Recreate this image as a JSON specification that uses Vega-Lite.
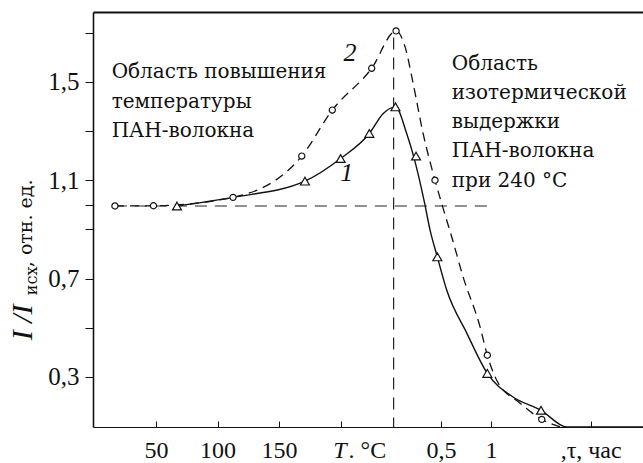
{
  "$schema": "https://vega.github.io/schema/vega-lite/v6.json",
  "width": 550,
  "height": 415,
  "autosize": {"type": "none"},
  "padding": {"left": 93, "top": 12, "right": 0, "bottom": 36},
  "background": "white",
  "config": {
    "view": {"stroke": null},
    "font": "Liberation Serif, DejaVu Serif",
    "text": {"font": "DejaVu Serif"},
    "axis": {"grid": false, "domainColor": "#111", "tickColor": "#111", "labelColor": "#111", "labelFont": "Liberation Serif, DejaVu Serif", "labelFontSize": 24}
  },
  "datasets": {
    "one": [{}],
    "c1line": [
      {"x": 67.1, "y": 0.995}, {"x": 112.6, "y": 1.030}, {"x": 171.0, "y": 1.096}, {"x": 200.0, "y": 1.188},
      {"x": 223.3, "y": 1.290}, {"x": 234.6, "y": 1.371}, {"x": 244.5, "y": 1.398}, {"x": 253.6, "y": 1.290},
      {"x": 259.2, "y": 1.198}, {"x": 267.7, "y": 1.018}, {"x": 272.6, "y": 0.897}, {"x": 278.5, "y": 0.788},
      {"x": 286.1, "y": 0.653}, {"x": 302.4, "y": 0.478}, {"x": 319.1, "y": 0.314}, {"x": 340.0, "y": 0.218},
      {"x": 362.7, "y": 0.164}, {"x": 383.6, "y": 0.096}, {"x": 445.5, "y": 0.096}
    ],
    "c2line": [
      {"x": 16.7, "y": 0.995}, {"x": 48.0, "y": 0.996}, {"x": 112.6, "y": 1.030}, {"x": 168.4, "y": 1.198},
      {"x": 193.2, "y": 1.385}, {"x": 225.2, "y": 1.555}, {"x": 245.0, "y": 1.707}, {"x": 252.3, "y": 1.642},
      {"x": 258.8, "y": 1.495}, {"x": 266.9, "y": 1.291}, {"x": 276.6, "y": 1.100}, {"x": 286.1, "y": 0.937},
      {"x": 290.2, "y": 0.869}, {"x": 299.4, "y": 0.707}, {"x": 313.2, "y": 0.503}, {"x": 319.1, "y": 0.388},
      {"x": 326.7, "y": 0.286}, {"x": 345.7, "y": 0.193}, {"x": 363.3, "y": 0.127}, {"x": 378.2, "y": 0.096}
    ],
    "c1pts": [
      {"x": 67.1, "y": 0.995}, {"x": 171.0, "y": 1.096}, {"x": 200.0, "y": 1.188}, {"x": 223.3, "y": 1.290},
      {"x": 244.5, "y": 1.398}, {"x": 261.2, "y": 1.198}, {"x": 278.5, "y": 0.788}, {"x": 319.1, "y": 0.314},
      {"x": 362.7, "y": 0.164}
    ],
    "c2pts": [
      {"x": 16.7, "y": 0.995}, {"x": 48.0, "y": 0.996}, {"x": 112.6, "y": 1.030}, {"x": 168.4, "y": 1.198},
      {"x": 193.2, "y": 1.385}, {"x": 225.2, "y": 1.555}, {"x": 245.0, "y": 1.707}, {"x": 276.6, "y": 1.100},
      {"x": 319.1, "y": 0.388}, {"x": 363.3, "y": 0.127}
    ]
  },
  "layer": [
    {
      "data": {"name": "c1line"},
      "mark": {"type": "line", "interpolate": "monotone", "stroke": "#111", "strokeWidth": 1.4},
      "encoding": {
        "x": {"field": "x", "type": "quantitative", "scale": {"domain": [-1.1, 445.5], "nice": false, "zero": false},
          "axis": {"orient": "bottom", "title": null, "values": [50, 100, 150, 200, 281.5, 322, 403],
            "labelExpr": "datum.value == 50 ? '50' : datum.value == 100 ? '100' : datum.value == 150 ? '150' : datum.value == 281.5 ? '0,5' : datum.value == 322 ? '1' : datum.value == 403 ? ',τ, час' : ''",
            "tickSize": -6, "labelPadding": 17, "domainWidth": 1.2, "labelFlush": false, "labelOverlap": false, "labelFontSize": 24}},
        "y": {"field": "y", "type": "quantitative", "scale": {"domain": [0.096, 1.784], "nice": false, "zero": false},
          "axis": {"orient": "left", "title": null, "values": [0.3, 0.5, 0.7, 0.9, 1.0, 1.1, 1.3, 1.5, 1.7],
            "labelExpr": "abs(datum.value - 0.3) < 0.01 ? '0,3' : abs(datum.value - 0.7) < 0.01 ? '0,7' : abs(datum.value - 1.1) < 0.01 ? '1,1' : abs(datum.value - 1.5) < 0.01 ? '1,5' : ''",
            "tickSize": 8, "labelPadding": 6, "domainWidth": 1.6, "labelFlush": false, "labelOverlap": false, "labelFontSize": 25}}
      }
    },
    {
      "data": {"name": "c2line"},
      "mark": {"type": "line", "interpolate": "monotone", "stroke": "#111", "strokeWidth": 1.3, "strokeDash": [9, 6]},
      "encoding": {
        "x": {"field": "x", "type": "quantitative", "scale": {"domain": [-1.1, 445.5], "nice": false, "zero": false},
          "axis": {"orient": "top", "title": null, "labels": false, "ticks": false, "domain": true, "domainWidth": 2}},
        "y": {"field": "y", "type": "quantitative", "scale": {"domain": [0.096, 1.784], "nice": false, "zero": false}, "axis": null}
      }
    },
    {
      "data": {"name": "one"},
      "mark": {"type": "rule", "stroke": "#222", "strokeWidth": 1.2, "strokeDash": [12, 8]},
      "encoding": {
        "x": {"datum": 16.7, "type": "quantitative", "scale": {"domain": [-1.1, 445.5], "nice": false, "zero": false}, "axis": null},
        "x2": {"datum": 322.7},
        "y": {"datum": 0.995, "type": "quantitative", "scale": {"domain": [0.096, 1.784], "nice": false, "zero": false}, "axis": null}
      }
    },
    {
      "data": {"name": "one"},
      "mark": {"type": "rule", "stroke": "#222", "strokeWidth": 1.2, "strokeDash": [12, 8]},
      "encoding": {
        "x": {"datum": 243.0, "type": "quantitative", "scale": {"domain": [-1.1, 445.5], "nice": false, "zero": false}, "axis": null},
        "y": {"datum": 1.68, "type": "quantitative", "scale": {"domain": [0.096, 1.784], "nice": false, "zero": false}, "axis": null},
        "y2": {"datum": 0.096}
      }
    },
    {
      "data": {"name": "c1pts"},
      "mark": {"type": "point", "shape": "triangle-up", "filled": true, "fill": "white", "stroke": "#111", "strokeWidth": 1.2, "size": 80, "opacity": 1},
      "encoding": {
        "x": {"field": "x", "type": "quantitative", "scale": {"domain": [-1.1, 445.5], "nice": false, "zero": false}, "axis": null},
        "y": {"field": "y", "type": "quantitative", "scale": {"domain": [0.096, 1.784], "nice": false, "zero": false}, "axis": null}
      }
    },
    {
      "data": {"name": "c2pts"},
      "mark": {"type": "point", "shape": "circle", "filled": true, "fill": "white", "stroke": "#111", "strokeWidth": 1.2, "size": 38, "opacity": 1},
      "encoding": {
        "x": {"field": "x", "type": "quantitative", "scale": {"domain": [-1.1, 445.5], "nice": false, "zero": false}, "axis": null},
        "y": {"field": "y", "type": "quantitative", "scale": {"domain": [0.096, 1.784], "nice": false, "zero": false}, "axis": null}
      }
    },
    {
      "data": {"name": "one"},
      "mark": {"type": "text", "text": ["Область повышения", "температуры", "ПАН-волокна"], "align": "left", "baseline": "alphabetic", "lineHeight": 29.5, "fontSize": 20, "font": "DejaVu Serif", "fill": "#111"},
      "encoding": {
        "x": {"datum": 14.05, "type": "quantitative", "scale": {"domain": [-1.1, 445.5], "nice": false, "zero": false}, "axis": null},
        "y": {"datum": 1.514, "type": "quantitative", "scale": {"domain": [0.096, 1.784], "nice": false, "zero": false}, "axis": null}
      }
    },
    {
      "data": {"name": "one"},
      "mark": {"type": "text", "text": ["Область", "изотермической", "выдержки", "ПАН-волокна", "при 240 °C"], "align": "left", "baseline": "alphabetic", "lineHeight": 29.3, "fontSize": 20, "font": "DejaVu Serif", "fill": "#111"},
      "encoding": {
        "x": {"datum": 290.2, "type": "quantitative", "scale": {"domain": [-1.1, 445.5], "nice": false, "zero": false}, "axis": null},
        "y": {"datum": 1.55, "type": "quantitative", "scale": {"domain": [0.096, 1.784], "nice": false, "zero": false}, "axis": null}
      }
    },
    {
      "data": {"name": "one"},
      "mark": {"type": "text", "text": "2", "align": "center", "baseline": "middle", "fontSize": 26, "fontStyle": "italic", "font": "Liberation Serif", "fill": "#111"},
      "encoding": {
        "x": {"datum": 207.6, "type": "quantitative", "scale": {"domain": [-1.1, 445.5], "nice": false, "zero": false}, "axis": null},
        "y": {"datum": 1.617, "type": "quantitative", "scale": {"domain": [0.096, 1.784], "nice": false, "zero": false}, "axis": null}
      }
    },
    {
      "data": {"name": "one"},
      "mark": {"type": "text", "text": "1", "align": "center", "baseline": "middle", "fontSize": 26, "fontStyle": "italic", "font": "Liberation Serif", "fill": "#111"},
      "encoding": {
        "x": {"datum": 204.9, "type": "quantitative", "scale": {"domain": [-1.1, 445.5], "nice": false, "zero": false}, "axis": null},
        "y": {"datum": 1.129, "type": "quantitative", "scale": {"domain": [0.096, 1.784], "nice": false, "zero": false}, "axis": null}
      }
    },
    {
      "data": {"name": "one"},
      "mark": {"type": "text", "text": "T", "align": "left", "baseline": "alphabetic", "fontSize": 24, "fontStyle": "italic", "font": "Liberation Serif", "fill": "#111"},
      "encoding": {
        "x": {"datum": 194.0, "type": "quantitative", "scale": {"domain": [-1.1, 445.5], "nice": false, "zero": false}, "axis": null},
        "y": {"datum": -0.03, "type": "quantitative", "scale": {"domain": [0.096, 1.784], "nice": false, "zero": false}, "axis": null}
      }
    },
    {
      "data": {"name": "one"},
      "mark": {"type": "text", "text": ". °C", "align": "left", "baseline": "alphabetic", "fontSize": 24, "font": "Liberation Serif", "fill": "#111"},
      "encoding": {
        "x": {"datum": 206.4, "type": "quantitative", "scale": {"domain": [-1.1, 445.5], "nice": false, "zero": false}, "axis": null},
        "y": {"datum": -0.03, "type": "quantitative", "scale": {"domain": [0.096, 1.784], "nice": false, "zero": false}, "axis": null}
      }
    },
    {
      "data": {"name": "one"},
      "mark": {"type": "text", "text": "I /I", "align": "left", "baseline": "alphabetic", "angle": 270, "fontSize": 30, "fontStyle": "italic", "font": "Liberation Serif", "fill": "#111"},
      "encoding": {
        "x": {"datum": -50.7, "type": "quantitative", "scale": {"domain": [-1.1, 445.5], "nice": false, "zero": false}, "axis": null},
        "y": {"datum": 0.449, "type": "quantitative", "scale": {"domain": [0.096, 1.784], "nice": false, "zero": false}, "axis": null}
      }
    },
    {
      "data": {"name": "one"},
      "mark": {"type": "text", "text": "исх", "align": "left", "baseline": "alphabetic", "angle": 270, "fontSize": 16, "font": "DejaVu Serif", "fill": "#111"},
      "encoding": {
        "x": {"datum": -46.9, "type": "quantitative", "scale": {"domain": [-1.1, 445.5], "nice": false, "zero": false}, "axis": null},
        "y": {"datum": 0.632, "type": "quantitative", "scale": {"domain": [0.096, 1.784], "nice": false, "zero": false}, "axis": null}
      }
    },
    {
      "data": {"name": "one"},
      "mark": {"type": "text", "text": ", отн. ед.", "align": "left", "baseline": "alphabetic", "angle": 270, "fontSize": 19, "font": "DejaVu Serif", "fill": "#111"},
      "encoding": {
        "x": {"datum": -50.7, "type": "quantitative", "scale": {"domain": [-1.1, 445.5], "nice": false, "zero": false}, "axis": null},
        "y": {"datum": 0.746, "type": "quantitative", "scale": {"domain": [0.096, 1.784], "nice": false, "zero": false}, "axis": null}
      }
    }
  ],
  "resolve": {"axis": {"x": "independent", "y": "independent"}}
}
